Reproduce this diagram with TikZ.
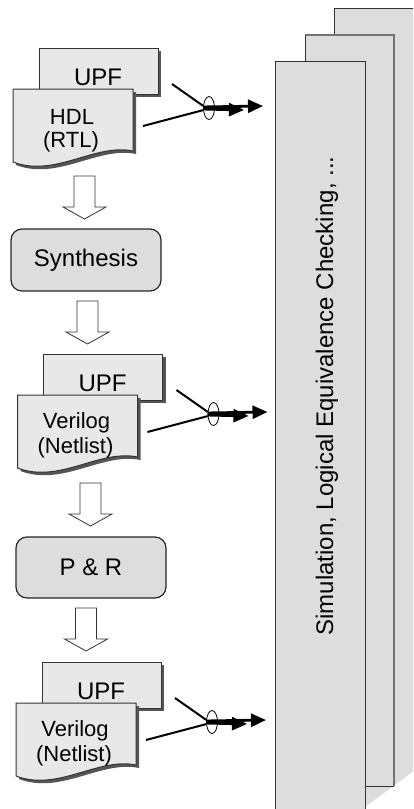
\documentclass[tikz,border=0pt]{standalone}
\usepackage{fontspec}
\setmainfont{Liberation Sans}
\usetikzlibrary{arrows.meta,shapes.geometric}
\definecolor{pagegray}{HTML}{DDDDDD}
\definecolor{docgray}{HTML}{E8E8E8}
\definecolor{shadegray}{HTML}{555555}
\tikzset{
	docbox/.style={draw=black!80,line width=1pt,fill=docgray},
	stepbox/.style={draw=black!85,line width=1.2pt,fill=pagegray,rounded corners=11pt,
		minimum width=150pt,minimum height=62pt,font=\fontsize{24}{24}\selectfont},
	biglabel/.style={font=\fontsize{24}{24}\selectfont},
	smalllabel/.style={font=\fontsize{22}{22}\selectfont},
	hollow/.style={draw=black!80,line width=0.8pt,fill=white},
	feed/.style={line width=2pt},
	push/.style={line width=2.8pt,-{Triangle[length=15pt,width=13pt]}}
}
\begin{document}
\begin{tikzpicture}[x=1pt,y=-1pt]
	\clip (0,0) rectangle (413,809);
	\fill[white] (0,0) rectangle (413,809);
	% stacked result pages
	\draw[fill=pagegray,draw=black!80,line width=1pt] (334,830) -- (334,8) -- (430,8) -- (430,759);
	\fill[pagegray] (305,786) rectangle (394,35);
	\draw[black!55,line width=1.2pt] (305,35) -- (394,35) -- (394,786);
	\draw[black!80,line width=1pt] (305,35) -- (305,786) -- (394,786);
	\draw[fill=pagegray,draw=black!80,line width=1pt] (275,830) -- (275,61) -- (365,61) -- (365,830);
	\node[biglabel,rotate=90] (sim) at (327,396) {Simulation, Logical Equivalence Checking, ...};
	% UPF + netlist stacks with their bundled feeds
	\foreach \n/\dx/\dy/\ta/\tb in {1/0/0/HDL/(RTL),2/4.5/306/Verilog/(Netlist),3/3/614/Verilog/(Netlist)}{
		\begin{scope}[shift={(\dx,\dy)}]
			\fill[shadegray] (42,51) rectangle (161,97);
			\draw[docbox] (39,48) rectangle (158,94);
			\node[biglabel] (upf\n) at (98,77) {UPF};
			\fill[shadegray] (16,92) -- (136,92) -- (136,154) .. controls (98,146) and (58,181) .. (16,165) -- cycle;
			\draw[docbox] (13,89) -- (133,89) -- (133,151) .. controls (95,143) and (55,178) .. (13,162) -- cycle;
			\node[smalllabel] (hdl\n) at (72,117) {\ta};
			\node[smalllabel] (rtl\n) at (71,142) {\tb};
			\coordinate (ua\n) at (172,84);
			\coordinate (da\n) at (143,126);
			\node[draw,ellipse,line width=0.8pt,minimum width=11pt,minimum height=23pt,inner sep=0pt] (tie\n) at (209,108) {};
			\coordinate (tipa\n) at (263,106);
			\coordinate (tipb\n) at (244,110);
			\draw[feed] (ua\n) -- (tie\n.160);
			\draw[feed] (da\n) -- (tie\n.200);
			\draw[push] (tie\n.170) -- (tipa\n);
			\draw[push] (tie\n.190) -- (tipb\n);
		\end{scope}
	}
	% tool steps
	\node[stepbox] (synth) at (86,260) {Synthesis};
	\node[stepbox,minimum height=61pt] (pnr) at (91,567.5) {P \& R};
	% hollow flow arrows
	\foreach \x/\y in {84.5/176,87.5/301,90.5/483,86/608}
		\draw[hollow] (\x-10.5,\y) -- (\x+10.5,\y) -- (\x+10.5,\y+31) -- (\x+21.5,\y+31)
			-- (\x,\y+43) -- (\x-21.5,\y+31) -- (\x-10.5,\y+31) -- cycle;
\end{tikzpicture}
\end{document}
